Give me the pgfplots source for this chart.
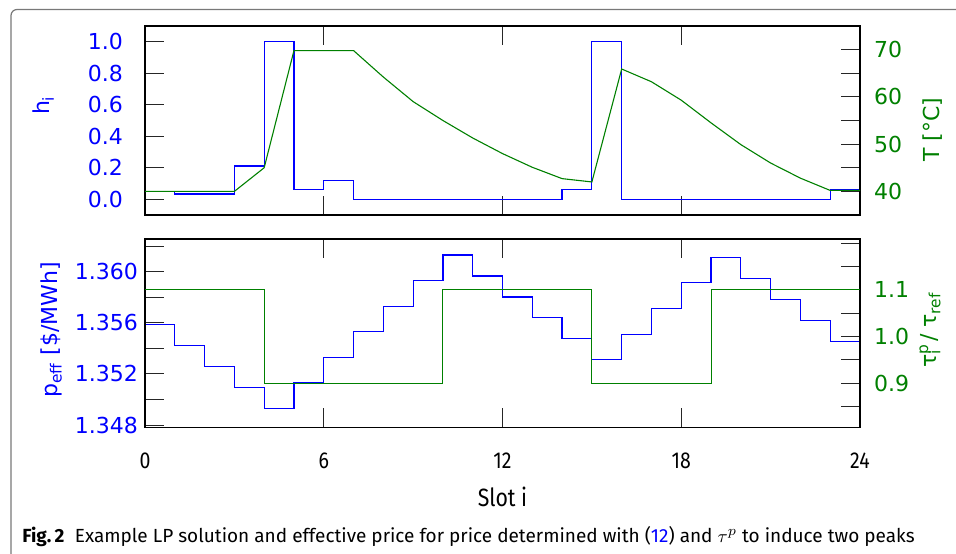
\documentclass[border=0pt]{standalone}
\usepackage{pgfplots}
\pgfplotsset{compat=1.18}
\usepackage{fontspec}
\setmainfont{DejaVu Sans}
\newfontfamily\condfont[FakeStretch=0.85]{Fira Sans}
\newfontfamily\capfont{Fira Sans}
\definecolor{myblue}{RGB}{0,0,255}
\definecolor{mygreen}{RGB}{0,128,0}
\definecolor{framegray}{RGB}{120,120,120}

\pgfplotsset{
  panel/.style={
    scale only axis, width=357.5pt,
    xmin=0, xmax=24, xtick={0,6,12,18,24},
    tick align=inside,
    major tick length=9.5pt, minor tick length=9.5pt,
    axis line style={line width=0.7pt},
    tick style={black!85, line width=0.5pt},
    minor tick style={black!85, line width=0.5pt},
    font=\fontsize{11}{13}\selectfont,
    ylabel style={anchor=center},
  }
}

\pgfplotstableread{
x h
0 0.047
1 0.034
2 0.034
3 0.211
4 1.0
5 0.062
6 0.12
7 0
8 0
9 0
10 0
11 0
12 0
13 0
14 0.062
15 1.0
16 0
17 0
18 0
19 0
20 0
21 0
22 0
23 0.062
24 0.062
}\hdata

\pgfplotstableread{
x T
0 40.0
1 40.0
2 40.0
3 40.0
4 45.0
5 69.8
6 69.8
7 69.8
8 64.2
9 59.0
10 55.0
11 51.3
12 48.0
13 45.1
14 42.7
15 42.0
16 65.9
17 63.2
18 59.3
19 54.5
20 49.9
21 46.0
22 42.8
23 40.2
24 40.2
}\Tdata

\pgfplotstableread{
x p
0 1.35584
1 1.35420
2 1.35258
3 1.35094
4 1.34927
5 1.35130
6 1.35328
7 1.35529
8 1.35730
9 1.35930
10 1.36130
11 1.35966
12 1.35802
13 1.35638
14 1.35477
15 1.35313
16 1.35511
17 1.35711
18 1.35914
19 1.36109
20 1.35945
21 1.35784
22 1.35620
23 1.35456
24 1.35456
}\pdata

\pgfplotstableread{
x tau
0 1.1
4 0.9
10 1.1
15 0.9
19 1.1
24 1.1
}\taudata

\begin{document}
\begin{tikzpicture}
\useasboundingbox (0,0) rectangle (478pt,-276.5pt);
\draw[framegray, line width=0.6pt, rounded corners=3pt] (5.5pt,-280pt) -- (5.5pt,-4.75pt) -- (482pt,-4.75pt);

% ---------- top panel, left axis (h_i)
\begin{axis}[panel, at={(72.5pt,-13pt)}, anchor=north west, height=94.5pt,
  ymin=-0.1, ymax=1.1,
  ytick={0,0.2,0.4,0.6,0.8,1.0}, yticklabels={0.0,0.2,0.4,0.6,0.8,1.0},
  ytick pos=left, xtick pos=both, xticklabels={},
  yticklabel style={text=myblue, xshift=-7.5pt},
  ylabel={h\textsubscript{i}},
  ylabel style={text=myblue, at={(axis description cs:-0.142,0.58)}},
]
\addplot[myblue, line width=0.6pt, const plot] table[x=x, y=h] {\hdata};
\end{axis}

% ---------- top panel, right axis (T)
\begin{axis}[panel, at={(72.5pt,-13pt)}, anchor=north west, height=94.5pt,
  ymin=35, ymax=75,
  ytick={40,50,60,70}, yticklabels={40,50,60,70},
  minor ytick={45,55,65},
  ytick pos=right, xtick=\empty,
  yticklabel style={text=mygreen, xshift=3.5pt},
  ylabel={T [°C]},
  ylabel style={text=mygreen, at={(axis description cs:1.101,0.45)}},
]
\addplot[mygreen, line width=0.55pt] table[x=x, y=T] {\Tdata};
\end{axis}

% ---------- bottom panel, left axis (p_eff)
\begin{axis}[panel, at={(72.5pt,-119.5pt)}, anchor=north west, height=94.15pt,
  ymin=1.34782, ymax=1.36255,
  ytick={1.348,1.352,1.356,1.360}, yticklabels={1.348,1.352,1.356,1.360},
  minor ytick={1.350,1.354,1.358,1.362},
  ytick pos=left, xtick pos=both,
  xticklabels={0,6,12,18,24},
  xticklabel style={font=\condfont\fontsize{11.5}{13}\selectfont, yshift=-9pt},
  yticklabel style={text=myblue},
  ylabel={p\textsubscript{eff} [\$/MWh]},
  ylabel style={text=myblue, at={(axis description cs:-0.131,0.517)}},
  xlabel={Slot i},
  xlabel style={font=\condfont\fontsize{12.5}{14}\selectfont, anchor=center, at={(axis description cs:0.5,-0.37)}},
]
\addplot[myblue, line width=0.6pt, const plot] table[x=x, y=p] {\pdata};
\end{axis}

% ---------- bottom panel, right axis (tau)
\begin{axis}[panel, at={(72.5pt,-119.5pt)}, anchor=north west, height=94.15pt,
  ymin=0.8056, ymax=1.209,
  ytick={0.9,1.0,1.1}, yticklabels={0.9,1.0,1.1},
  minor ytick={0.85,0.95,1.05,1.15,1.2},
  ytick pos=right, xtick=\empty,
  yticklabel style={text=mygreen, xshift=3.5pt},
  ylabel={τ\rlap{\textsuperscript{p}}\textsubscript{i} / τ\textsubscript{ref}},
  ylabel style={text=mygreen, at={(axis description cs:1.098,0.517)}},
]
\addplot[mygreen, line width=0.55pt, const plot] table[x=x, y=tau] {\taudata};
\end{axis}

\node[anchor=west, inner sep=0pt, font=\capfont\fontsize{9.5}{11}\selectfont] at (11pt,-268.5pt)
  {\textbf{Fig.\,2}\hspace{0.55em}Example LP solution and effective price for price determined with (\textcolor{myblue}{12}) and $\tau^{p}$ to induce two peaks};
\end{tikzpicture}
\end{document}
